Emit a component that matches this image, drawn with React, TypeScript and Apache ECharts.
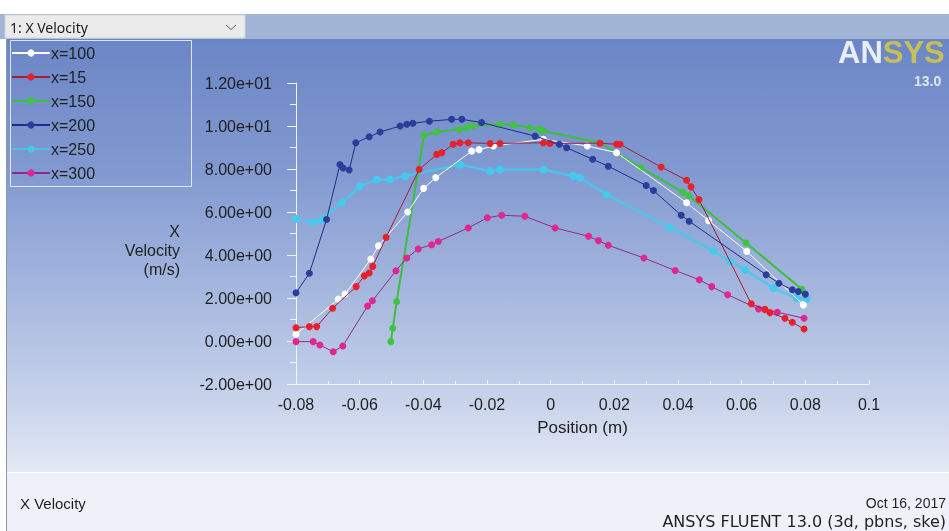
import React, { useEffect, useRef } from "react";
import * as echarts from "echarts";

// ---- data ----
const seriesNames = ["x=100", "x=15", "x=150", "x=200", "x=250", "x=300"];

const x100: number[][] = [
  [-0.08, 0.31], [-0.0667, 1.95], [-0.0646, 2.18], [-0.0565, 3.81], [-0.0541, 4.43],
  [-0.0449, 6.0], [-0.0399, 7.1], [-0.0361, 7.6], [-0.0248, 8.83], [-0.0225, 8.9],
  [-0.018, 9.07], [-0.0023, 9.38], [0.0115, 9.07], [0.0207, 8.76], [0.0427, 6.43],
  [0.0496, 5.6], [0.0616, 4.17], [0.0794, 1.68],
];

const x15: number[][] = [
  [-0.08, 0.62], [-0.0758, 0.67], [-0.0735, 0.67], [-0.0685, 1.52], [-0.0611, 2.53],
  [-0.0585, 3.03], [-0.057, 3.16], [-0.0559, 3.47], [-0.0517, 4.82], [-0.0413, 7.98],
  [-0.0358, 8.68], [-0.0342, 8.76], [-0.0306, 9.15], [-0.0285, 9.22], [-0.0259, 9.22],
  [-0.019, 9.19], [-0.0159, 9.19], [-0.0023, 9.22], [-0.0002, 9.19], [0.0155, 9.2],
  [0.0207, 9.15], [0.0218, 9.15], [0.0347, 8.09], [0.0427, 7.48], [0.0441, 7.17],
  [0.0466, 6.58], [0.063, 1.73], [0.0673, 1.48], [0.0689, 1.32], [0.0736, 1.06],
  [0.0759, 0.87], [0.0796, 0.56],
];

const x150: number[][] = [
  [-0.0502, -0.03], [-0.0496, 0.59], [-0.0484, 1.83], [-0.0398, 9.57], [-0.0358, 9.72],
  [-0.0287, 9.85], [-0.0264, 9.92], [-0.0245, 10.0], [-0.0159, 10.08], [-0.0117, 10.05],
  [-0.0065, 9.92], [-0.0035, 9.85], [-0.0023, 9.77], [0.0155, 9.22], [0.0283, 8.06],
  [0.0415, 6.92], [0.0433, 6.77], [0.0614, 4.56], [0.0789, 2.41],
];

const x200: number[][] = [
  [-0.08, 2.24], [-0.0758, 3.15], [-0.0704, 5.65], [-0.0662, 8.21], [-0.0652, 8.05],
  [-0.0633, 7.95], [-0.0612, 9.22], [-0.057, 9.5], [-0.0536, 9.72], [-0.0473, 10.0],
  [-0.0452, 10.08], [-0.0433, 10.13], [-0.0381, 10.22], [-0.0311, 10.31], [-0.0279, 10.31],
  [-0.0217, 10.16], [-0.0049, 9.53], [0.0027, 9.15], [0.005, 8.99], [0.0132, 8.45],
  [0.0181, 8.13], [0.03, 7.23], [0.0323, 7.0], [0.041, 5.85], [0.0435, 5.57],
  [0.0677, 3.08], [0.0717, 2.69], [0.0759, 2.38], [0.0778, 2.3], [0.08, 2.18],
];

const x250: number[][] = [
  [-0.08, 5.68], [-0.0746, 5.52], [-0.0719, 5.65], [-0.0656, 6.43], [-0.0599, 7.2],
  [-0.0546, 7.51], [-0.0505, 7.51], [-0.0458, 7.67], [-0.0285, 8.21], [-0.019, 7.9],
  [-0.0159, 7.98], [-0.0023, 7.98], [0.0071, 7.67], [0.0092, 7.59], [0.0176, 6.81],
  [0.0375, 5.26], [0.0511, 4.2], [0.0564, 3.7], [0.0611, 3.31], [0.07, 2.46],
  [0.0773, 1.99], [0.0804, 1.95],
];

const x300: number[][] = [
  [-0.08, -0.03], [-0.0746, -0.03], [-0.0725, -0.19], [-0.0683, -0.5], [-0.0653, -0.23],
  [-0.0575, 1.63], [-0.056, 1.87], [-0.0486, 3.27], [-0.0452, 3.86], [-0.0416, 4.28],
  [-0.0374, 4.48], [-0.0353, 4.63], [-0.0259, 5.26], [-0.0199, 5.73], [-0.0154, 5.85],
  [-0.0081, 5.8], [0.0014, 5.26], [0.0119, 4.87], [0.015, 4.67], [0.0181, 4.45],
  [0.0293, 3.86], [0.0391, 3.28], [0.0467, 2.85], [0.0506, 2.53], [0.0556, 2.15],
  [0.0653, 1.49], [0.0673, 1.45], [0.0712, 1.34], [0.0796, 1.06],
];

const seriesData = [x100, x15, x150, x200, x250, x300];

const symbolColors = ["#ffffff", "#e8202c", "#3fc43f", "#2b3c9c", "#45c9ec", "#e2268f"];
const lineColors = ["#ffffff", "#9e1f3c", "#3cbf3c", "#1f2d85", "#45c9ec", "#8e2a8c"];
const lineWidths = [1, 1, 2, 1, 2.5, 1];

const xMin = -0.08;
const xMax = 0.1;
const xStep = 0.02;
const yMin = -2;
const yMax = 12;
const yStep = 2;

const FONT = "Liberation Sans, Arial, sans-serif";

function fmtExp(v: number): string {
  const s = v.toExponential(2);
  const [m, e] = s.split("e");
  const sign = e[0] === "-" ? "-" : "+";
  const digits = e.replace(/[+-]/, "").padStart(2, "0");
  return `${m}e${sign}${digits}`;
}

export default function App() {
  const ref = useRef<HTMLDivElement>(null);

  useEffect(() => {
    if (!ref.current) return;
    const chart = echarts.init(ref.current, undefined, { renderer: "svg" });

    const series = seriesNames.map((name, i) => ({
      name,
      type: "line" as const,
      data: seriesData[i],
      symbol: "circle",
      symbolSize: i === 4 ? 8 : 7,
      showAllSymbol: true,
      itemStyle: { color: symbolColors[i] },
      lineStyle: {
        color: lineColors[i],
        width: lineWidths[i],
        opacity: i === 4 ? 0.85 : 1,
      },
      z: [3, 4, 2, 5, 1, 3][i],
    }));

    chart.setOption({
      animation: false,
      grid: { left: 296, right: 80, top: 83, bottom: 147, containLabel: false },
      legend: {
        data: seriesNames,
        orient: "vertical",
        left: 11,
        top: 45,
        padding: 0,
        itemWidth: 38,
        itemHeight: 9,
        itemGap: 8,
        selectedMode: false,
        textStyle: { color: "#1f1f1f", fontSize: 16, fontFamily: FONT, padding: [0, 0, 0, -4] },
      },
      xAxis: {
        type: "value",
        min: xMin,
        max: xMax,
        interval: xStep,
        name: "Position (m)",
        nameLocation: "middle",
        nameGap: 35,
        nameTextStyle: { color: "#1f1f1f", fontSize: 17, fontFamily: FONT },
        axisLine: { show: true, onZero: false, lineStyle: { color: "#f2f5fb", width: 1 } },
        axisTick: { show: true, inside: true, length: 4, lineStyle: { color: "#f2f5fb" } },
        minorTick: { show: true, splitNumber: 2, length: 3, lineStyle: { color: "#f2f5fb" } },
        splitLine: { show: false },
        axisLabel: {
          color: "#1f1f1f",
          fontSize: 16,
          fontFamily: FONT,
          margin: 12,
          formatter: (v: number) => String(parseFloat(v.toFixed(2))),
        },
      },
      yAxis: {
        type: "value",
        min: yMin,
        max: yMax,
        interval: yStep,
        axisLine: { show: true, onZero: false, lineStyle: { color: "#f2f5fb", width: 1 } },
        axisTick: { show: true, length: 9, lineStyle: { color: "#f2f5fb" } },
        minorTick: { show: true, splitNumber: 2, length: 6, lineStyle: { color: "#f2f5fb" } },
        splitLine: { show: false },
        axisLabel: {
          color: "#1f1f1f",
          fontSize: 16,
          fontFamily: FONT,
          margin: 24,
          formatter: (v: number) => fmtExp(v),
        },
      },
      graphic: [
        { type: "rect", z: -100, silent: true, shape: { x: 0, y: 0, width: 949, height: 531 }, style: { fill: "#ffffff" } },
        { type: "rect", z: -99, silent: true, shape: { x: 0, y: 14, width: 949, height: 25 }, style: { fill: "#a2b4d5" } },
        {
          type: "rect", z: -99, silent: true,
          shape: { x: 6, y: 39, width: 943, height: 433 },
          style: {
            fill: new echarts.graphic.LinearGradient(0, 0, 0, 1, [
              { offset: 0, color: "#6b86c6" },
              { offset: 0.3, color: "#8199d0" },
              { offset: 0.6, color: "#a8b9df" },
              { offset: 0.85, color: "#cad5ec" },
              { offset: 1, color: "#e3e9f4" },
            ]),
          },
        },
        { type: "rect", z: -99, silent: true, shape: { x: 6, y: 472, width: 943, height: 59 }, style: { fill: "#eef2f8" } },
        { type: "line", z: -98, silent: true, shape: { x1: 6, y1: 472.5, x2: 949, y2: 472.5 }, style: { stroke: "#ffffff", lineWidth: 1 } },
        { type: "line", z: -98, silent: true, shape: { x1: 6.5, y1: 39, x2: 6.5, y2: 531 }, style: { stroke: "#8e96a6", lineWidth: 1 } },
        // dropdown
        { type: "rect", z: -97, silent: true, shape: { x: 5, y: 15, width: 240, height: 23 }, style: { fill: "#ebebeb", stroke: "#d4d4d4", lineWidth: 1 } },
        { type: "text", z: -96, silent: true, x: 10, y: 27, style: { text: "1: X Velocity", fill: "#1a1a1a", fontSize: 14, fontFamily: "Noto Sans, sans-serif", verticalAlign: "middle" } },
        { type: "polyline", z: -96, silent: true, shape: { points: [[226, 25], [231, 29.5], [236, 25]] }, style: { stroke: "#606060", lineWidth: 1, fill: "none" } },
        // legend frame
        { type: "rect", z: -95, silent: true, shape: { x: 10.5, y: 40.5, width: 181, height: 146 }, style: { fill: "none", stroke: "#dfe6f2", lineWidth: 1 } },
        // y-axis name
        {
          type: "text", z: 5, silent: true, x: 180, y: 222,
          style: { text: "X\nVelocity\n(m/s)", align: "right", verticalAlign: "top", lineHeight: 19, fill: "#1f1f1f", fontSize: 16, fontFamily: FONT },
        },
        // ANSYS logo
        {
          type: "text", z: 5, silent: true, x: 838, y: 39,
          style: {
            text: "{a|AN}{b|SYS}",
            rich: {
              a: { fontSize: 31, lineHeight: 26, fontWeight: "bold", fill: "#e8edf7", fontFamily: FONT },
              b: { fontSize: 31, lineHeight: 26, fontWeight: "bold", fill: "#c6bf5a", fontFamily: FONT },
            },
          },
        },
        { type: "text", z: 5, silent: true, x: 914, y: 74, style: { text: "13.0", fontSize: 14, fontWeight: "bold", fill: "#dfe6f2", fontFamily: FONT } },
        // footer
        { type: "text", z: 5, silent: true, x: 20, y: 503, style: { text: "X Velocity", fill: "#1f1f1f", fontSize: 15, fontFamily: FONT, verticalAlign: "middle" } },
        { type: "text", z: 5, silent: true, x: 946, y: 503, style: { text: "Oct 16, 2017", fill: "#1f1f1f", fontSize: 14, fontFamily: FONT, align: "right", verticalAlign: "middle" } },
        { type: "text", z: 5, silent: true, x: 946, y: 521, style: { text: "ANSYS FLUENT 13.0 (3d, pbns, ske)", fill: "#1f1f1f", fontSize: 16, fontFamily: "DejaVu Sans, sans-serif", align: "right", verticalAlign: "middle" } },
      ],
      series,
    });

    return () => chart.dispose();
  }, []);

  return (
    <div
      ref={ref}
      style={{ position: "fixed", left: 0, top: 0, width: 949, height: 531 }}
    />
  );
}
